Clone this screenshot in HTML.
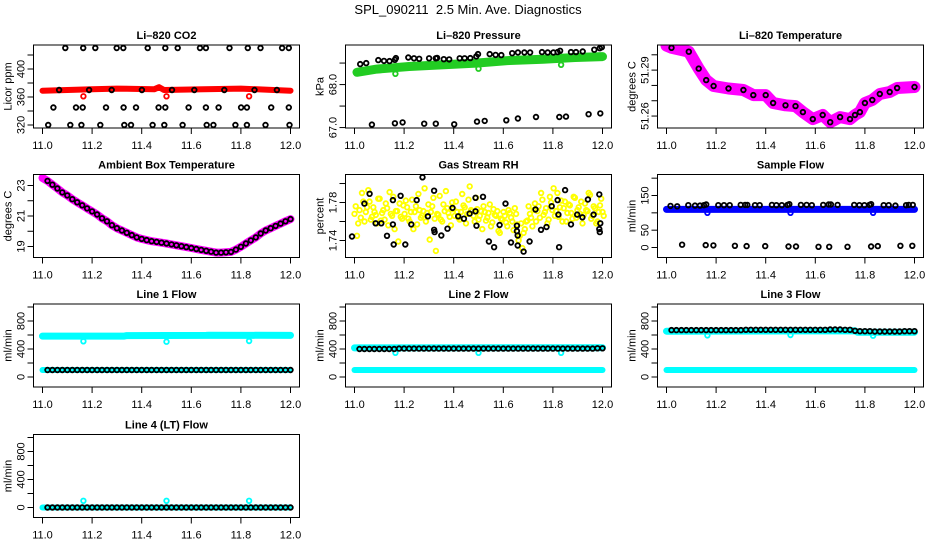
<!DOCTYPE html>
<html><head><meta charset="utf-8"><style>
html,body{margin:0;padding:0;background:#fff;}
svg{display:block;font-family:"Liberation Sans",Arial,sans-serif;}
</style></head><body>
<svg id="chart" width="936" height="540" viewBox="0 0 936 540" xmlns="http://www.w3.org/2000/svg">
<rect width="936" height="540" fill="#fff"/>
<text x="468" y="14" text-anchor="middle" font-size="13" xml:space="preserve">SPL_090211  2.5 Min. Ave. Diagnostics</text>
</svg>
<script>
// ---------- shared data ----------
const xTicks = [11.0, 11.2, 11.4, 11.6, 11.8, 12.0];
const xTickLabels = ["11.0", "11.2", "11.4", "11.6", "11.8", "12.0"];
const t50 = [11.02,11.04,11.06,11.08,11.10,11.12,11.14,11.16,11.18,11.20,11.22,11.24,11.26,11.28,11.30,11.32,11.34,11.36,11.38,11.40,11.42,11.44,11.46,11.48,11.50,11.52,11.54,11.56,11.58,11.60,11.62,11.64,11.66,11.68,11.70,11.72,11.74,11.76,11.78,11.80,11.82,11.84,11.86,11.88,11.90,11.92,11.94,11.96,11.98,12.00];
const dipX = [11.165, 11.5, 11.833];

// CO2
const co2BandX = [11.0,11.2,11.3,11.45,11.47,11.49,11.65,11.8,12.0];
const co2BandV = [369,371,372,371,374,370,371,372,369];
const co2TopX = [11.092,11.164,11.213,11.299,11.326,11.424,11.495,11.545,11.635,11.659,11.754,11.828,11.879,11.966,11.993];
const co2TopV = [430,430,430,430,430,430,430,430,430,430,430,430,430,430,430];
const co2MidX = [11.067,11.188,11.279,11.401,11.522,11.612,11.733,11.855,11.945];
const co2MidV = [370,370,370,370,370,370,370,370,370];
const co2LowX = [11.044,11.135,11.162,11.256,11.327,11.377,11.468,11.495,11.589,11.659,11.710,11.801,11.824,11.922,11.993];
const co2LowV = [345,345,345,345,345,345,345,345,345,345,345,345,345,345,345];
const co2BotX = [11.023,11.112,11.157,11.233,11.330,11.357,11.444,11.491,11.565,11.662,11.689,11.778,11.824,11.899,11.996];
const co2BotV = [320,320,320,320,320,320,320,320,320,320,320,320,320,320,320];
const co2DipV = [361,361,361];

// Pressure
const presBandX = [11.01,11.09,11.22,11.36,11.49,11.625,11.76,11.89,12.0];
const presBandV = [68.285,68.36,68.42,68.46,68.50,68.56,68.59,68.63,68.65];
const presDipV = [68.25,68.37,68.46];
const presUpX = [11.023,11.047,11.096,11.119,11.141,11.163,11.167,11.217,11.240,11.261,11.301,11.328,11.333,11.360,11.382,11.424,11.444,11.467,11.491,11.498,11.545,11.569,11.592,11.636,11.659,11.685,11.708,11.756,11.779,11.802,11.819,11.829,11.873,11.893,11.920,11.967,11.989,11.997];
const presUpV = [68.477,68.50,68.57,68.55,68.546,68.577,68.615,68.63,68.61,68.60,68.61,68.61,68.62,68.59,68.585,68.61,68.61,68.615,68.654,68.708,68.708,68.69,68.685,68.73,68.746,68.746,68.746,68.754,68.746,68.746,68.754,68.785,68.754,68.754,68.77,68.81,68.846,68.87];
const presLoX = [11.070,11.163,11.194,11.281,11.328,11.402,11.494,11.525,11.612,11.659,11.732,11.826,11.853,11.944,11.991];
const presLoV = [67.07,67.10,67.12,67.09,67.09,67.077,67.138,67.154,67.17,67.21,67.246,67.246,67.254,67.31,67.33];

// Li-820 temperature
const ltX = [11.0,11.02,11.09,11.13,11.16,11.19,11.25,11.31,11.35,11.40,11.43,11.48,11.52,11.55,11.59,11.63,11.66,11.70,11.74,11.76,11.78,11.80,11.83,11.86,11.90,11.93,12.0];
const ltV = [51.306,51.3046,51.302,51.291,51.2835,51.2796,51.278,51.277,51.2737,51.2737,51.2685,51.267,51.2665,51.2626,51.258,51.2607,51.256,51.2593,51.258,51.2607,51.2626,51.2685,51.2705,51.2744,51.2757,51.2783,51.279];

// Ambient box temperature
const btV = [23.3,23.05,22.8,22.55,22.35,22.1,21.9,21.7,21.5,21.3,21.1,20.85,20.65,20.4,20.2,20.05,19.9,19.75,19.6,19.5,19.42,19.35,19.3,19.25,19.2,19.14,19.08,19.02,18.96,18.9,18.84,18.78,18.72,18.66,18.6,18.6,18.62,18.65,18.8,18.98,19.2,19.4,19.6,19.85,20.05,20.2,20.35,20.5,20.65,20.8];
const btStartV = [23.5];

// Gas stream RH
const rhYellowA = [1.768,1.745,1.772,1.790,1.760,1.775,1.781,1.765,1.770,1.758,1.784,1.769,1.762,1.774,1.791,1.766,1.752,1.771,1.779,1.763,1.768,1.775,1.760,1.783,1.770,1.757,1.772,1.766,1.795,1.769,1.741,1.776,1.763,1.768,1.787,1.760,1.771,1.774,1.765,1.780,1.766,1.770,1.762,1.789,1.775,1.768,1.797,1.771,1.760,1.773,1.766,1.752,1.770,1.764,1.778,1.759,1.767,1.771,1.748,1.762,1.766,1.755,1.769,1.760,1.774,1.757,1.745,1.732,1.752,1.761,1.768,1.755,1.779,1.771,1.764,1.783,1.770,1.758,1.786,1.772,1.766,1.790,1.775,1.760,1.781,1.769,1.777,1.763,1.785,1.772,1.768,1.758,1.779,1.771,1.788,1.766,1.774,1.760,1.777,1.770];
const rhYellowB = [1.776,1.758,1.764,1.781,1.770,1.793,1.762,1.775,1.767,1.784,1.761,1.772,1.779,1.756,1.768,1.786,1.771,1.739,1.765,1.777,1.782,1.763,1.770,1.752,1.776,1.789,1.764,1.771,1.760,1.778,1.770,1.785,1.729,1.767,1.762,1.778,1.792,1.769,1.756,1.773,1.781,1.764,1.770,1.777,1.758,1.783,1.772,1.766,1.785,1.762,1.771,1.776,1.761,1.769,1.755,1.773,1.766,1.750,1.763,1.770,1.759,1.772,1.764,1.751,1.768,1.740,1.758,1.748,1.760,1.776,1.764,1.772,1.760,1.776,1.790,1.767,1.774,1.762,1.780,1.795,1.771,1.765,1.782,1.774,1.760,1.778,1.769,1.786,1.764,1.775,1.781,1.767,1.772,1.790,1.763,1.776,1.758,1.770,1.784,1.766];
const rhBlackX = [10.99,11.040,11.061,11.085,11.108,11.131,11.155,11.158,11.155,11.205,11.186,11.229,11.251,11.274,11.296,11.321,11.321,11.323,11.350,11.375,11.395,11.418,11.441,11.464,11.488,11.488,11.492,11.518,11.542,11.563,11.585,11.609,11.631,11.655,11.655,11.658,11.658,11.682,11.706,11.730,11.752,11.774,11.795,11.819,11.822,11.825,11.849,11.873,11.898,11.919,11.941,11.964,11.987,11.991,11.987,11.989];
const rhBlackV = [1.7442,1.7789,1.7892,1.7581,1.7581,1.7450,1.7825,1.7358,1.7570,1.7358,1.7871,1.7570,1.7825,1.8065,1.7655,1.7924,1.7513,1.7488,1.7453,1.7524,1.7743,1.7655,1.7630,1.7683,1.7708,1.7850,1.7556,1.7860,1.7389,1.7329,1.7563,1.7789,1.7379,1.7556,1.7499,1.7453,1.7347,1.7283,1.7389,1.7726,1.7513,1.7542,1.7761,1.7825,1.7673,1.7329,1.7931,1.7570,1.7673,1.7644,1.7832,1.7673,1.7885,1.7581,1.7520,1.7488];

// Sample flow
const sfBandX = [11.0, 12.0];
const sfBandV = [110, 110];
const sfDipV = [100, 100, 100];
const sfUpX = [11.016,11.043,11.088,11.115,11.135,11.151,11.160,11.209,11.232,11.255,11.299,11.317,11.326,11.357,11.376,11.425,11.443,11.465,11.488,11.495,11.542,11.565,11.586,11.632,11.654,11.663,11.690,11.757,11.778,11.798,11.818,11.825,11.876,11.896,11.923,11.966,11.977,11.993];
const sfUpV = [120,119,122,121,121,122,124,122,122,122,123,123,123,122,122,123,122,122,123,125,123,123,122,123,124,124,123,123,122,122,123,125,122,122,121,122,123,123];
const sfLoX = [11.063,11.158,11.189,11.276,11.323,11.398,11.492,11.522,11.613,11.656,11.730,11.825,11.852,11.943,11.991];
const sfLoV = [8,7,6,5,4,4,3,3,2,2,2,3,4,5,5];

// Line flows
const l1CyanUpX = [11.0,11.33,11.34,11.66,11.67,12.0];
const l1CyanUpV = [585,585,592,595,597,595];
const l1DipV = [510,505,515];
const l1Black = [100,100,100,100,100,100,100,100,100,100,100,100,100,100,100,100,100,100,100,100,100,100,100,100,100,100,100,100,100,100,100,100,100,100,100,100,100,100,100,100,100,100,100,100,100,100,100,100,100,100];
const l2CyanUpX = [11.0, 12.0];
const l2CyanUpV = [415, 418];
const l2DipV = [345,345,345];
const l2Black = [400,400,400,400,400,400,400,400,405,405,405,405,405,405,405,405,405,405,405,405,405,405,405,405,405,405,405,405,405,405,405,405,405,405,405,405,405,405,405,405,405,405,405,405,405,405,405,405,410,410];
const l3CyanUpX = [11.0, 11.76, 11.77, 12.0];
const l3CyanUpV = [655, 660, 640, 640];
const l3DipV = [595,600,590];
const l3Black = [670,670,670,670,670,670,670,670,670,670,670,670,670,670,670,675,675,675,675,675,675,675,675,675,675,675,675,675,675,675,675,675,678,678,678,675,675,660,655,655,655,650,650,650,650,650,650,655,655,655];
const lowCyanX = [11.0, 12.0];
const lowCyanV = [100, 100];
const l4CyanX = [11.0, 12.0];
const l4CyanV = [0, 0];
const l4SpikeV = [95, 95, 95];
const l4Black = [0,0,0,0,0,0,0,0,0,0,0,0,0,0,0,0,0,0,0,0,0,0,0,0,0,0,0,0,0,0,0,0,0,0,0,0,0,0,0,0,0,0,0,0,0,0,0,0,0,0];

// ---------- drawing ----------
const NS = "http://www.w3.org/2000/svg";
const svg = document.getElementById("chart");
const COLX = [33.5, 345.5, 657.5];
const ROWY = [45, 174.5, 304, 434.5];
const W = 266, H = 83;
const XMIN = 10.9637, XMAX = 12.0363;

function el(tag, attrs, parent) {
  const e = document.createElementNS(NS, tag);
  for (const k in attrs) e.setAttribute(k, attrs[k]);
  (parent || svg).appendChild(e);
  return e;
}

function makePanel(name, col, row, title, ylab, ymin, ymax, yTicks, yLabels) {
  const x0 = COLX[col], y0 = ROWY[row];
  const g = el("g", {});
  
  
  const sx = v => x0 + (v - XMIN) / (XMAX - XMIN) * W;
  const sy = v => y0 + H - (v - ymin) / (ymax - ymin) * H;
  const clip = el("clipPath", {id: "clip-" + name}, g);
  el("rect", {x: x0, y: y0, width: W, height: H}, clip);
  const marks = el("g", {"clip-path": "url(#clip-" + name + ")"}, g);
  
  
  const box = el("rect", {x: x0, y: y0, width: W, height: H, fill: "none", stroke: "#000", "stroke-width": 1}, g);
  
  
  const tt = el("text", {x: x0 + W / 2, y: y0 - 6, "text-anchor": "middle", "font-size": 11, "font-weight": "bold"}, g);
  tt.textContent = title;
  
  
  xTicks.forEach((v, i) => {
    const x = sx(v);
    el("line", {x1: x, x2: x, y1: y0 + H, y2: y0 + H + 6, stroke: "#000"}, g);
    const t = el("text", {x: x, y: y0 + H + 21, "text-anchor": "middle", "font-size": 11}, g);
    t.textContent = xTickLabels[i];
    
    
  });
  el("line", {x1: sx(xTicks[0]), x2: sx(xTicks[xTicks.length - 1]), y1: y0 + H, y2: y0 + H, stroke: "#000"}, g);
  yTicks.forEach((v, i) => {
    const y = sy(v);
    el("line", {x1: x0 - 6, x2: x0, y1: y, y2: y, stroke: "#000"}, g);
    if (yLabels[i]) {
      const t = el("text", {x: 0, y: 0, "text-anchor": "middle", "font-size": 11, transform: "translate(" + (x0 - 9) + "," + y + ") rotate(-90)"}, g);
      t.textContent = yLabels[i];
      
      
    }
  });
  const yl = el("text", {x: 0, y: 0, "text-anchor": "middle", "font-size": 11, transform: "translate(" + (x0 - 22) + "," + (y0 + H / 2) + ") rotate(-90)"}, g);
  yl.textContent = ylab;
  
  

  return {
    band(xs, vs, color, w) {
      const pts = xs.map((x, i) => sx(x).toFixed(1) + "," + sy(vs[i]).toFixed(1)).join(" ");
      const p = el("polyline", {points: pts, fill: "none", stroke: color, "stroke-width": w, "stroke-linecap": "round", "stroke-linejoin": "round"}, marks);
      
      
    },
    points(xs, vs, color) {
      xs.forEach((x, i) => {
        const c = el("circle", {cx: sx(x).toFixed(1), cy: sy(vs[i]).toFixed(1), r: 2.3, fill: "none", stroke: color, "stroke-width": 1.8}, marks);
        
        
      });
    }
  };
}

function idxX(arr) { return arr.map((_, i) => 11.0 + i / (arr.length - 1)); }

let p = makePanel("li820-co2", 0, 0, "Li\u2013820 CO2", "Licor ppm", 315.7, 434.3, [320,340,360,380,400,420], ["320","","360","","400",""]);
p.band(co2BandX, co2BandV, "#ff0000", 6);
p.points(dipX, co2DipV, "#ff0000");
p.points(co2TopX, co2TopV, "#000");
p.points(co2MidX, co2MidV, "#000");
p.points(co2LowX, co2LowV, "#000");
p.points(co2BotX, co2BotV, "#000");

p = makePanel("li820-pressure", 1, 0, "Li\u2013820 Pressure", "kPa", 66.99, 68.92, [67.0,67.5,68.0,68.5], ["67.0","","68.0",""]);
p.band(presBandX, presBandV, "#22cc22", 9);
p.points(dipX, presDipV, "#22cc22");
p.points(presUpX, presUpV, "#000");
p.points(presLoX, presLoV, "#000");

p = makePanel("li820-temperature", 2, 0, "Li\u2013820 Temperature", "degrees C", 51.2522, 51.3064, [51.26,51.27,51.28,51.29,51.30], ["51.26","","","51.29",""]);
p.band(ltX, ltV, "#ff00ff", 12);
p.points(ltX.slice(1), ltV.slice(1), "#000");

p = makePanel("ambient-box-temperature", 0, 1, "Ambient Box Temperature", "degrees C", 18.28, 23.72, [19,20,21,22,23], ["19","","21","","23"]);
p.band([11.0].concat(t50), btStartV.concat(btV), "#ff00ff", 8);
p.points(t50, btV, "#000");

p = makePanel("gas-stream-rh", 1, 1, "Gas Stream RH", "percent", 1.7221, 1.8095, [1.74,1.76,1.78,1.80], ["1.74","","1.78",""]);
p.points(idxX(rhYellowA), rhYellowA, "#ffff00");
p.points(idxX(rhYellowB).map(x => x + 0.005), rhYellowB, "#ffff00");
p.points(rhBlackX, rhBlackV, "#000");

p = makePanel("sample-flow", 2, 1, "Sample Flow", "ml/min", -28.8, 210.6, [0,50,100,150,200], ["0","50","","150",""]);
p.band(sfBandX, sfBandV, "#0000ff", 7);
p.points(dipX, sfDipV, "#0000ff");
p.points(sfUpX, sfUpV, "#000");
p.points(sfLoX, sfLoV, "#000");

const flowTicks = [0,200,400,600,800,1000];
const flowLabels = ["0","","400","","800",""];
p = makePanel("line-1-flow", 0, 2, "Line 1 Flow", "ml/min", -143, 1043, flowTicks, flowLabels);
p.band(l1CyanUpX, l1CyanUpV, "#00ffff", 7);
p.points(dipX, l1DipV, "#00ffff");
p.band(lowCyanX, lowCyanV, "#00ffff", 6);
p.points(t50, l1Black, "#000");

p = makePanel("line-2-flow", 1, 2, "Line 2 Flow", "ml/min", -143, 1043, flowTicks, flowLabels);
p.band(l2CyanUpX, l2CyanUpV, "#00ffff", 7);
p.points(dipX, l2DipV, "#00ffff");
p.band(lowCyanX, lowCyanV, "#00ffff", 6);
p.points(t50, l2Black, "#000");

p = makePanel("line-3-flow", 2, 2, "Line 3 Flow", "ml/min", -143, 1043, flowTicks, flowLabels);
p.band(l3CyanUpX, l3CyanUpV, "#00ffff", 7);
p.points(dipX, l3DipV, "#00ffff");
p.band(lowCyanX, lowCyanV, "#00ffff", 6);
p.points(t50, l3Black, "#000");

p = makePanel("line-4-lt-flow", 0, 3, "Line 4 (LT) Flow", "ml/min", -143, 1043, flowTicks, flowLabels);
p.band(l4CyanX, l4CyanV, "#00ffff", 6);
p.points(dipX, l4SpikeV, "#00ffff");
p.points(t50, l4Black, "#000");
</script>
</body></html>
